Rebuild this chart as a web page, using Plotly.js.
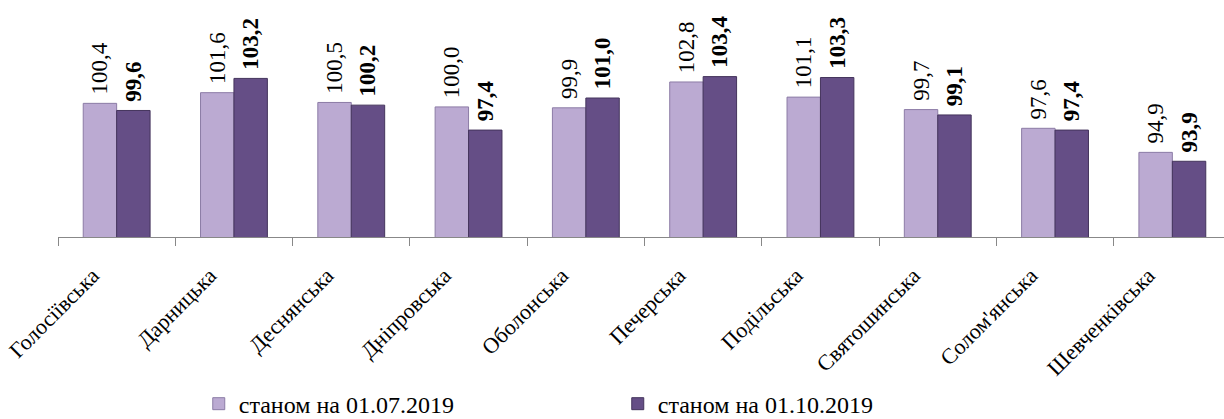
<!DOCTYPE html>
<html>
<head>
<meta charset="utf-8">
<script src="https://cdn.plot.ly/plotly-3.0.1.min.js"></script>
<style>
html,body{margin:0;padding:0;overflow:hidden;background:#fff;}
#chart{width:1231px;height:419px;}
</style>
</head>
<body>
<div id="chart"></div>
<script>
const districts = ["Голосіївська","Дарницька","Деснянська","Дніпровська","Оболонська","Печерська","Подільська","Святошинська","Солом'янська","Шевченківська"];
const seriesNames = ["станом на 01.07.2019","станом на 01.10.2019"];
const valuesJul = [100.4,101.6,100.5,100.0,99.9,102.8,101.1,99.7,97.6,94.9];
const valuesOct = [99.6,103.2,100.2,97.4,101.0,103.4,103.3,99.1,97.4,93.9];

const serif = "Liberation Serif, Times New Roman, serif";
const pad = "\u00a0";

const traces = [
  {
    type: "bar", name: seriesNames[0], x: districts, y: valuesJul,
    marker: {color: "#BBAAD2", line: {color: "#8C7CA6", width: 1}},
    texttemplate: pad + "%{y:.1f}", textposition: "outside", textangle: -90,
    constraintext: "none",
    textfont: {family: serif, size: 23, color: "#000"},
    cliponaxis: false, hoverinfo: "skip"
  },
  {
    type: "bar", name: seriesNames[1], x: districts, y: valuesOct,
    marker: {color: "#654E86", line: {color: "#44345C", width: 1}},
    texttemplate: pad + "<b>%{y:.1f}</b>", textposition: "outside", textangle: -90,
    constraintext: "none",
    textfont: {family: serif, size: 23, color: "#000", weight: "bold"},
    cliponaxis: false, hoverinfo: "skip"
  }
];

const layout = {
  width: 1231, height: 419,
  margin: {l: 58, r: 0, t: 0, b: 182, autoexpand: false},
  paper_bgcolor: "#fff", plot_bgcolor: "#fff",
  separators: ", ",
  barmode: "group", bargap: 0.43, bargroupgap: 0,
  font: {family: serif, color: "#000"},
  showlegend: true,
  xaxis: {
    type: "category", tickangle: -45, tickson: "boundaries",
    ticks: "outside", ticklen: 8, tickcolor: "#888", tickwidth: 1,
    showline: true, linecolor: "#888", linewidth: 1,
    showgrid: false, zeroline: false, automargin: false,
    ticklabelstandoff: 16, ticklabelshift: -24,
    tickfont: {family: serif, size: 22, color: "#000"}
  },
  yaxis: {
    range: [85.4, 112.0], visible: false, showgrid: false, zeroline: false
  },
  legend: {
    orientation: "h", x: 0.12, xanchor: "left", y: -0.705, yanchor: "middle",
    font: {family: serif, size: 24, color: "#000"},
    itemwidth: 30, entrywidth: 374, entrywidthmode: "pixels",
    tracegroupgap: 0, bgcolor: "rgba(0,0,0,0)"
  }
};

Plotly.newPlot("chart", traces, layout, {displayModeBar: false, staticPlot: true});
</script>
</body>
</html>
